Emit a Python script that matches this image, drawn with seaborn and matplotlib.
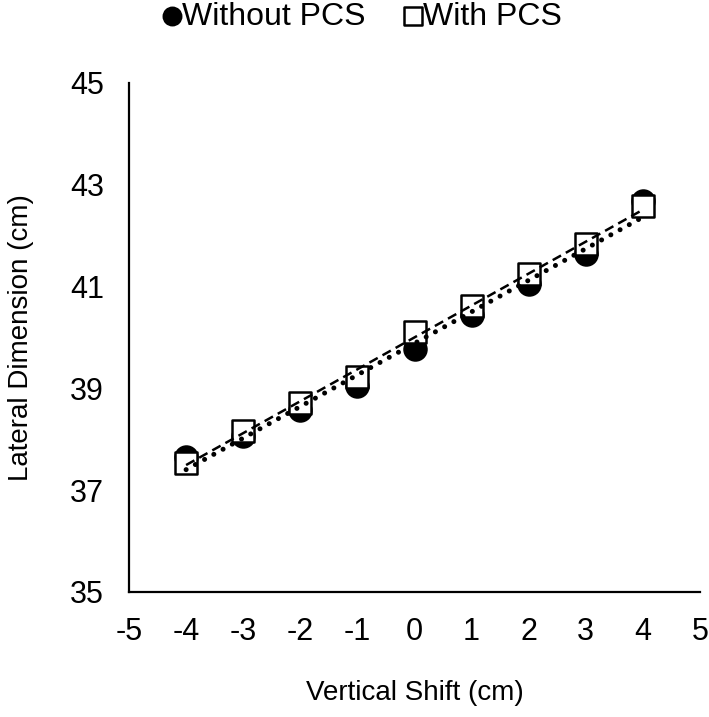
import matplotlib.pyplot as plt
import pandas as pd
import seaborn as sns

# values
shift = [-4, -3, -2, -1, 0, 1, 2, 3, 4]
without_pcs = [37.65, 38.07, 38.58, 39.05, 39.78, 40.44, 41.06, 41.65, 42.68]
with_pcs = [37.54, 38.17, 38.71, 39.22, 40.11, 40.61, 41.24, 41.84, 42.58]
x_ticks = [-5, -4, -3, -2, -1, 0, 1, 2, 3, 4, 5]
y_ticks = [35, 37, 39, 41, 43, 45]

df_wo = pd.DataFrame({"shift": shift, "dim": without_pcs})
df_w = pd.DataFrame({"shift": shift, "dim": with_pcs})

sns.set_style("white")
plt.rcParams["font.family"] = ["Liberation Sans", "DejaVu Sans"]
plt.rcParams["axes.unicode_minus"] = False
plt.rcParams["text.color"] = "black"
plt.rcParams["axes.labelcolor"] = "black"
plt.rcParams["xtick.color"] = "black"
plt.rcParams["ytick.color"] = "black"

fig = plt.figure(figsize=(7.09, 7.17), dpi=100)
ax = fig.add_axes([129 / 709, 1 - 592 / 717, (700 - 129) / 709, (592 - 83) / 717])

# markers
sns.scatterplot(data=df_wo, x="shift", y="dim", marker="o", s=270, color="black",
                edgecolor="black", linewidth=1.2, label="Without PCS", ax=ax, zorder=3)
sns.scatterplot(data=df_w, x="shift", y="dim", marker="s", s=270, color="white",
                edgecolor="black", linewidth=1.8, label="With PCS", ax=ax, zorder=4)

# linear trendlines
sns.regplot(data=df_wo, x="shift", y="dim", scatter=False, ci=None, ax=ax,
            line_kws=dict(color="black", lw=3.6, ls=(0, (0.01, 2.1)),
                          dash_capstyle="round", zorder=5))
sns.regplot(data=df_w, x="shift", y="dim", scatter=False, ci=None, ax=ax,
            line_kws=dict(color="black", lw=1.8, ls=(0, (3.8, 2.2)), zorder=5))

ax.set_xlim(-5, 5)
ax.set_ylim(35, 45)
ax.set_xticks(x_ticks)
ax.set_yticks(y_ticks)
ax.tick_params(axis="both", length=0, labelsize=22)
ax.tick_params(axis="x", pad=18)
ax.tick_params(axis="y", pad=18)
ax.set_xlabel("Vertical Shift (cm)", fontsize=20, labelpad=24)
ax.set_ylabel("Lateral Dimension (cm)", fontsize=20, labelpad=26)
for side in ["top", "right"]:
    ax.spines[side].set_visible(False)
for side in ["left", "bottom"]:
    ax.spines[side].set_color("black")
    ax.spines[side].set_linewidth(1.6)

ax.legend(loc="center", bbox_to_anchor=(0.40, 1.13), ncol=2, frameon=False,
          fontsize=23, handletextpad=-0.3, columnspacing=0.9, markerscale=0.8,
          handlelength=1.2)

fig.savefig("out.png", dpi=100)
